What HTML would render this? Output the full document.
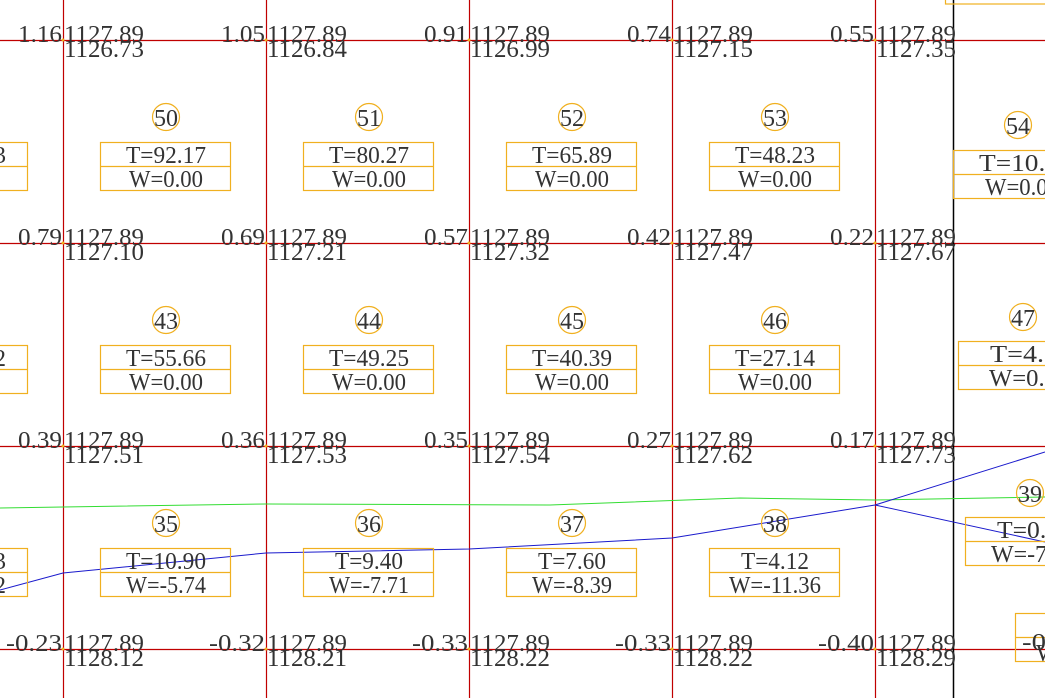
<!DOCTYPE html>
<html><head><meta charset="utf-8"><style>
html,body{margin:0;padding:0;background:#fff;}
svg{display:block;}
text{font-family:"Liberation Serif","Noto Serif CJK SC",serif;font-size:24px;fill:#333;}
</style></head><body>
<svg width="1045" height="698" viewBox="0 0 1045 698" xmlns="http://www.w3.org/2000/svg">
<g stroke="#c00000" stroke-width="1.2">
<line x1="0" y1="40.5" x2="1045" y2="40.5"/>
<line x1="0" y1="243.5" x2="1045" y2="243.5"/>
<line x1="0" y1="446.5" x2="1045" y2="446.5"/>
<line x1="0" y1="649.5" x2="1045" y2="649.5"/>
<line x1="63.5" y1="0" x2="63.5" y2="698"/>
<line x1="266.5" y1="0" x2="266.5" y2="698"/>
<line x1="469.5" y1="0" x2="469.5" y2="698"/>
<line x1="672.5" y1="0" x2="672.5" y2="698"/>
<line x1="875.5" y1="0" x2="875.5" y2="698"/>
</g>
<line x1="953.5" y1="0" x2="953.5" y2="698" stroke="#000" stroke-width="1.5"/>
<polyline points="0,508 63,507 266,504 550,505 740,498 875,500 1045,497" fill="none" stroke="#33dd33" stroke-width="1"/>
<polyline points="0,590 63,573 266,553 469,549 672,538 875,505 1045,452" fill="none" stroke="#1a1acc" stroke-width="1"/>
<line x1="875" y1="505" x2="1045" y2="542" stroke="#1a1acc" stroke-width="1"/>
<g fill="none" stroke="#f0b020" stroke-width="1.2">
<circle cx="166" cy="117" r="13.5"/><circle cx="369" cy="117" r="13.5"/><circle cx="572" cy="117" r="13.5"/><circle cx="775" cy="117" r="13.5"/>
<circle cx="166" cy="320" r="13.5"/><circle cx="369" cy="320" r="13.5"/><circle cx="572" cy="320" r="13.5"/><circle cx="775" cy="320" r="13.5"/>
<circle cx="166" cy="523" r="13.5"/><circle cx="369" cy="523" r="13.5"/><circle cx="572" cy="523" r="13.5"/><circle cx="775" cy="523" r="13.5"/>
<circle cx="1018" cy="125" r="13.5"/><circle cx="1023" cy="317" r="13.5"/><circle cx="1030" cy="493" r="13.5"/>
<rect x="100.5" y="142.5" width="130" height="48"/><line x1="100" y1="166.5" x2="231" y2="166.5"/>
<rect x="303.5" y="142.5" width="130" height="48"/><line x1="303" y1="166.5" x2="434" y2="166.5"/>
<rect x="506.5" y="142.5" width="130" height="48"/><line x1="506" y1="166.5" x2="637" y2="166.5"/>
<rect x="709.5" y="142.5" width="130" height="48"/><line x1="709" y1="166.5" x2="840" y2="166.5"/>
<rect x="100.5" y="345.5" width="130" height="48"/><line x1="100" y1="369.5" x2="231" y2="369.5"/>
<rect x="303.5" y="345.5" width="130" height="48"/><line x1="303" y1="369.5" x2="434" y2="369.5"/>
<rect x="506.5" y="345.5" width="130" height="48"/><line x1="506" y1="369.5" x2="637" y2="369.5"/>
<rect x="709.5" y="345.5" width="130" height="48"/><line x1="709" y1="369.5" x2="840" y2="369.5"/>
<rect x="100.5" y="548.5" width="130" height="48"/><line x1="100" y1="572.5" x2="231" y2="572.5"/>
<rect x="303.5" y="548.5" width="130" height="48"/><line x1="303" y1="572.5" x2="434" y2="572.5"/>
<rect x="506.5" y="548.5" width="130" height="48"/><line x1="506" y1="572.5" x2="637" y2="572.5"/>
<rect x="709.5" y="548.5" width="130" height="48"/><line x1="709" y1="572.5" x2="840" y2="572.5"/>
<rect x="-10" y="142.5" width="37.5" height="48"/><line x1="0" y1="166.5" x2="27" y2="166.5"/>
<rect x="-10" y="345.5" width="37.5" height="48"/><line x1="0" y1="369.5" x2="27" y2="369.5"/>
<rect x="-10" y="548.5" width="37.5" height="48"/><line x1="0" y1="572.5" x2="27" y2="572.5"/>
<rect x="953.5" y="150.5" width="120" height="48"/><line x1="953" y1="174.5" x2="1045" y2="174.5"/>
<rect x="958.5" y="341.5" width="120" height="48"/><line x1="958" y1="365.5" x2="1045" y2="365.5"/>
<rect x="965.5" y="517.5" width="120" height="48"/><line x1="965" y1="541.5" x2="1045" y2="541.5"/>
<rect x="1015.5" y="613.5" width="120" height="48"/><line x1="1015" y1="637.5" x2="1045" y2="637.5"/>
<rect x="945.5" y="-50" width="120" height="54"/>
</g>
<g text-anchor="middle">
<text x="166" y="126" textLength="24" lengthAdjust="spacingAndGlyphs">50</text>
<text x="369" y="126" textLength="24" lengthAdjust="spacingAndGlyphs">51</text>
<text x="572" y="126" textLength="24" lengthAdjust="spacingAndGlyphs">52</text>
<text x="775" y="126" textLength="24" lengthAdjust="spacingAndGlyphs">53</text>
<text x="166" y="329" textLength="24" lengthAdjust="spacingAndGlyphs">43</text>
<text x="369" y="329" textLength="24" lengthAdjust="spacingAndGlyphs">44</text>
<text x="572" y="329" textLength="24" lengthAdjust="spacingAndGlyphs">45</text>
<text x="775" y="329" textLength="24" lengthAdjust="spacingAndGlyphs">46</text>
<text x="166" y="532" textLength="24" lengthAdjust="spacingAndGlyphs">35</text>
<text x="369" y="532" textLength="24" lengthAdjust="spacingAndGlyphs">36</text>
<text x="572" y="532" textLength="24" lengthAdjust="spacingAndGlyphs">37</text>
<text x="775" y="532" textLength="24" lengthAdjust="spacingAndGlyphs">38</text>
<text x="1018" y="134" textLength="24" lengthAdjust="spacingAndGlyphs">54</text>
<text x="1023" y="326" textLength="24" lengthAdjust="spacingAndGlyphs">47</text>
<text x="1030" y="502" textLength="24" lengthAdjust="spacingAndGlyphs">39</text>
<text x="166" y="163" textLength="80" lengthAdjust="spacingAndGlyphs">T=92.17</text>
<text x="166" y="187" textLength="74" lengthAdjust="spacingAndGlyphs">W=0.00</text>
<text x="369" y="163" textLength="80" lengthAdjust="spacingAndGlyphs">T=80.27</text>
<text x="369" y="187" textLength="74" lengthAdjust="spacingAndGlyphs">W=0.00</text>
<text x="572" y="163" textLength="80" lengthAdjust="spacingAndGlyphs">T=65.89</text>
<text x="572" y="187" textLength="74" lengthAdjust="spacingAndGlyphs">W=0.00</text>
<text x="775" y="163" textLength="80" lengthAdjust="spacingAndGlyphs">T=48.23</text>
<text x="775" y="187" textLength="74" lengthAdjust="spacingAndGlyphs">W=0.00</text>
<text x="166" y="366" textLength="80" lengthAdjust="spacingAndGlyphs">T=55.66</text>
<text x="166" y="390" textLength="74" lengthAdjust="spacingAndGlyphs">W=0.00</text>
<text x="369" y="366" textLength="80" lengthAdjust="spacingAndGlyphs">T=49.25</text>
<text x="369" y="390" textLength="74" lengthAdjust="spacingAndGlyphs">W=0.00</text>
<text x="572" y="366" textLength="80" lengthAdjust="spacingAndGlyphs">T=40.39</text>
<text x="572" y="390" textLength="74" lengthAdjust="spacingAndGlyphs">W=0.00</text>
<text x="775" y="366" textLength="80" lengthAdjust="spacingAndGlyphs">T=27.14</text>
<text x="775" y="390" textLength="74" lengthAdjust="spacingAndGlyphs">W=0.00</text>
<text x="166" y="569" textLength="80" lengthAdjust="spacingAndGlyphs">T=10.90</text>
<text x="166" y="593" textLength="80" lengthAdjust="spacingAndGlyphs">W=-5.74</text>
<text x="369" y="569" textLength="68" lengthAdjust="spacingAndGlyphs">T=9.40</text>
<text x="369" y="593" textLength="80" lengthAdjust="spacingAndGlyphs">W=-7.71</text>
<text x="572" y="569" textLength="68" lengthAdjust="spacingAndGlyphs">T=7.60</text>
<text x="572" y="593" textLength="80" lengthAdjust="spacingAndGlyphs">W=-8.39</text>
<text x="775" y="569" textLength="68" lengthAdjust="spacingAndGlyphs">T=4.12</text>
<text x="775" y="593" textLength="92" lengthAdjust="spacingAndGlyphs">W=-11.36</text>
</g>
<text x="-6" y="163">3</text>
<text x="-6" y="366">2</text>
<text x="-6" y="569">3</text>
<text x="-6" y="593">2</text>
<text x="979" y="171" textLength="80" lengthAdjust="spacingAndGlyphs">T=10.7</text>
<text x="985" y="195" textLength="74" lengthAdjust="spacingAndGlyphs">W=0.00</text>
<text x="990" y="362" textLength="68" lengthAdjust="spacingAndGlyphs">T=4.7</text>
<text x="989" y="386" textLength="68" lengthAdjust="spacingAndGlyphs">W=0.0</text>
<text x="997" y="538" textLength="62" lengthAdjust="spacingAndGlyphs">T=0.7</text>
<text x="991" y="562" textLength="62" lengthAdjust="spacingAndGlyphs">W=-7.</text>
<text x="1022" y="650" textLength="24" lengthAdjust="spacingAndGlyphs">-0</text>
<text x="1036" y="661">W</text>
<g text-anchor="end">
<text x="62" y="42" textLength="44" lengthAdjust="spacingAndGlyphs">1.16</text>
<text x="265" y="42" textLength="44" lengthAdjust="spacingAndGlyphs">1.05</text>
<text x="468" y="42" textLength="44" lengthAdjust="spacingAndGlyphs">0.91</text>
<text x="671" y="42" textLength="44" lengthAdjust="spacingAndGlyphs">0.74</text>
<text x="874" y="42" textLength="44" lengthAdjust="spacingAndGlyphs">0.55</text>
<text x="62" y="245" textLength="44" lengthAdjust="spacingAndGlyphs">0.79</text>
<text x="265" y="245" textLength="44" lengthAdjust="spacingAndGlyphs">0.69</text>
<text x="468" y="245" textLength="44" lengthAdjust="spacingAndGlyphs">0.57</text>
<text x="671" y="245" textLength="44" lengthAdjust="spacingAndGlyphs">0.42</text>
<text x="874" y="245" textLength="44" lengthAdjust="spacingAndGlyphs">0.22</text>
<text x="62" y="448" textLength="44" lengthAdjust="spacingAndGlyphs">0.39</text>
<text x="265" y="448" textLength="44" lengthAdjust="spacingAndGlyphs">0.36</text>
<text x="468" y="448" textLength="44" lengthAdjust="spacingAndGlyphs">0.35</text>
<text x="671" y="448" textLength="44" lengthAdjust="spacingAndGlyphs">0.27</text>
<text x="874" y="448" textLength="44" lengthAdjust="spacingAndGlyphs">0.17</text>
<text x="62" y="651" textLength="56" lengthAdjust="spacingAndGlyphs">-0.23</text>
<text x="265" y="651" textLength="56" lengthAdjust="spacingAndGlyphs">-0.32</text>
<text x="468" y="651" textLength="56" lengthAdjust="spacingAndGlyphs">-0.33</text>
<text x="671" y="651" textLength="56" lengthAdjust="spacingAndGlyphs">-0.33</text>
<text x="874" y="651" textLength="56" lengthAdjust="spacingAndGlyphs">-0.40</text>
</g>
<g>
<text x="64" y="42" textLength="80" lengthAdjust="spacingAndGlyphs">1127.89</text>
<text x="267" y="42" textLength="80" lengthAdjust="spacingAndGlyphs">1127.89</text>
<text x="470" y="42" textLength="80" lengthAdjust="spacingAndGlyphs">1127.89</text>
<text x="673" y="42" textLength="80" lengthAdjust="spacingAndGlyphs">1127.89</text>
<text x="876" y="42" textLength="80" lengthAdjust="spacingAndGlyphs">1127.89</text>
<text x="64" y="57" textLength="80" lengthAdjust="spacingAndGlyphs">1126.73</text>
<text x="267" y="57" textLength="80" lengthAdjust="spacingAndGlyphs">1126.84</text>
<text x="470" y="57" textLength="80" lengthAdjust="spacingAndGlyphs">1126.99</text>
<text x="673" y="57" textLength="80" lengthAdjust="spacingAndGlyphs">1127.15</text>
<text x="876" y="57" textLength="80" lengthAdjust="spacingAndGlyphs">1127.35</text>
<text x="64" y="245" textLength="80" lengthAdjust="spacingAndGlyphs">1127.89</text>
<text x="267" y="245" textLength="80" lengthAdjust="spacingAndGlyphs">1127.89</text>
<text x="470" y="245" textLength="80" lengthAdjust="spacingAndGlyphs">1127.89</text>
<text x="673" y="245" textLength="80" lengthAdjust="spacingAndGlyphs">1127.89</text>
<text x="876" y="245" textLength="80" lengthAdjust="spacingAndGlyphs">1127.89</text>
<text x="64" y="260" textLength="80" lengthAdjust="spacingAndGlyphs">1127.10</text>
<text x="267" y="260" textLength="80" lengthAdjust="spacingAndGlyphs">1127.21</text>
<text x="470" y="260" textLength="80" lengthAdjust="spacingAndGlyphs">1127.32</text>
<text x="673" y="260" textLength="80" lengthAdjust="spacingAndGlyphs">1127.47</text>
<text x="876" y="260" textLength="80" lengthAdjust="spacingAndGlyphs">1127.67</text>
<text x="64" y="448" textLength="80" lengthAdjust="spacingAndGlyphs">1127.89</text>
<text x="267" y="448" textLength="80" lengthAdjust="spacingAndGlyphs">1127.89</text>
<text x="470" y="448" textLength="80" lengthAdjust="spacingAndGlyphs">1127.89</text>
<text x="673" y="448" textLength="80" lengthAdjust="spacingAndGlyphs">1127.89</text>
<text x="876" y="448" textLength="80" lengthAdjust="spacingAndGlyphs">1127.89</text>
<text x="64" y="463" textLength="80" lengthAdjust="spacingAndGlyphs">1127.51</text>
<text x="267" y="463" textLength="80" lengthAdjust="spacingAndGlyphs">1127.53</text>
<text x="470" y="463" textLength="80" lengthAdjust="spacingAndGlyphs">1127.54</text>
<text x="673" y="463" textLength="80" lengthAdjust="spacingAndGlyphs">1127.62</text>
<text x="876" y="463" textLength="80" lengthAdjust="spacingAndGlyphs">1127.73</text>
<text x="64" y="651" textLength="80" lengthAdjust="spacingAndGlyphs">1127.89</text>
<text x="267" y="651" textLength="80" lengthAdjust="spacingAndGlyphs">1127.89</text>
<text x="470" y="651" textLength="80" lengthAdjust="spacingAndGlyphs">1127.89</text>
<text x="673" y="651" textLength="80" lengthAdjust="spacingAndGlyphs">1127.89</text>
<text x="876" y="651" textLength="80" lengthAdjust="spacingAndGlyphs">1127.89</text>
<text x="64" y="666" textLength="80" lengthAdjust="spacingAndGlyphs">1128.12</text>
<text x="267" y="666" textLength="80" lengthAdjust="spacingAndGlyphs">1128.21</text>
<text x="470" y="666" textLength="80" lengthAdjust="spacingAndGlyphs">1128.22</text>
<text x="673" y="666" textLength="80" lengthAdjust="spacingAndGlyphs">1128.22</text>
<text x="876" y="666" textLength="80" lengthAdjust="spacingAndGlyphs">1128.29</text>
</g>
<g fill="#f0b020">
<circle cx="63" cy="40" r="1.5"/><circle cx="266" cy="40" r="1.5"/><circle cx="469" cy="40" r="1.5"/><circle cx="672" cy="40" r="1.5"/><circle cx="875" cy="40" r="1.5"/>
<circle cx="63" cy="243" r="1.5"/><circle cx="266" cy="243" r="1.5"/><circle cx="469" cy="243" r="1.5"/><circle cx="672" cy="243" r="1.5"/><circle cx="875" cy="243" r="1.5"/>
<circle cx="63" cy="446" r="1.5"/><circle cx="266" cy="446" r="1.5"/><circle cx="469" cy="446" r="1.5"/><circle cx="672" cy="446" r="1.5"/><circle cx="875" cy="446" r="1.5"/>
<circle cx="63" cy="649" r="1.5"/><circle cx="266" cy="649" r="1.5"/><circle cx="469" cy="649" r="1.5"/><circle cx="672" cy="649" r="1.5"/><circle cx="875" cy="649" r="1.5"/>
</g>
</svg>
</body></html>
